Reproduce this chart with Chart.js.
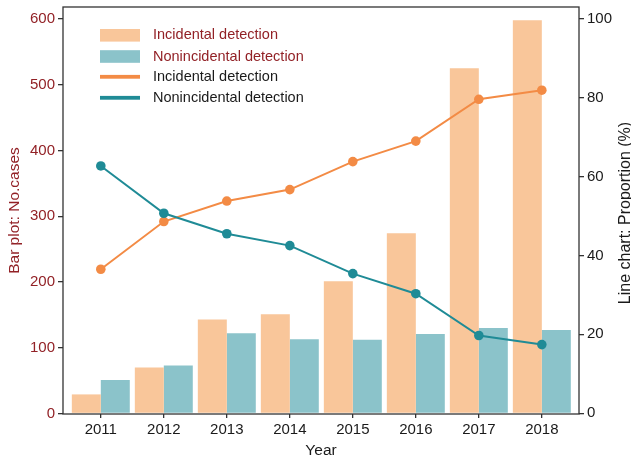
<!DOCTYPE html>
<html><head><meta charset="utf-8">
<script src="https://cdn.jsdelivr.net/npm/chart.js@4/dist/chart.umd.min.js"></script>
<style>html,body{margin:0;padding:0;background:#fff}#wrap{width:631px;height:461px}</style>
</head><body><div id="wrap"><canvas id="c" width="631" height="461"></canvas></div>
<script>
const years = [2011, 2012, 2013, 2014, 2015, 2016, 2017, 2018];
const incidentalCases = [29, 70, 143, 151, 201, 274, 525, 598];
const nonincidentalCases = [51, 73, 122, 113, 112, 121, 130, 127];
const incidentalPct = [36.5, 48.6, 53.8, 56.7, 63.8, 69.0, 79.6, 81.9];
const nonincidentalPct = [62.7, 50.7, 45.5, 42.5, 35.4, 30.3, 19.7, 17.4];
const casesTicks = [0, 100, 200, 300, 400, 500, 600];
const pctTicks = [0, 20, 40, 60, 80, 100];
const seriesNames = ['Incidental detection', 'Nonincidental detection'];
const axisTitles = {x: 'Year', left: 'Bar plot: No.cases', right: 'Line chart: Proportion (%)'};

const FONT = "'Liberation Sans', Arial, sans-serif";
const DARKRED = '#922126';
const C = {barInc: '#F9C69A', barNon: '#8BC3CA', lineInc: '#F38B45', lineNon: '#1F8B96', axis: '#333333', text: '#1a1a1a'};

const pts = (vals) => vals.map((v, i) => ({x: years[i], y: v}));
const noPad = s => { s.paddingTop = 0; s.paddingBottom = 0; s.paddingLeft = 0; s.paddingRight = 0; };

const extras = {
  id: 'extras',
  afterDraw(chart) {
    const ctx = chart.ctx, ca = chart.chartArea;
    ctx.save();
    ctx.strokeStyle = C.axis; ctx.lineWidth = 1.3;
    ctx.strokeRect(ca.left, ca.top, ca.right - ca.left, ca.bottom - ca.top);
    // axis titles
    ctx.textAlign = 'center'; ctx.textBaseline = 'middle';
    ctx.font = '15.5px ' + FONT; ctx.fillStyle = C.text;
    ctx.fillText(axisTitles.x, (ca.left + ca.right) / 2, 451);
    ctx.save(); ctx.translate(14.5, 210.5); ctx.rotate(-Math.PI / 2);
    ctx.font = '15.5px ' + FONT; ctx.fillStyle = DARKRED; ctx.fillText(axisTitles.left, 0, 0); ctx.restore();
    ctx.save(); ctx.translate(626, 213); ctx.rotate(-Math.PI / 2);
    ctx.font = '16px ' + FONT; ctx.fillStyle = C.text; ctx.fillText(axisTitles.right, 0, 0); ctx.restore();
    // legend
    const rows = [
      {kind: 'bar', color: C.barInc, label: seriesNames[0], tc: DARKRED, y: 35.3},
      {kind: 'bar', color: C.barNon, label: seriesNames[1], tc: DARKRED, y: 56.5},
      {kind: 'line', color: C.lineInc, label: seriesNames[0], tc: C.text, y: 76.8},
      {kind: 'line', color: C.lineNon, label: seriesNames[1], tc: C.text, y: 97.8}
    ];
    ctx.textAlign = 'left'; ctx.font = '14.5px ' + FONT;
    rows.forEach(r => {
      ctx.fillStyle = r.color;
      if (r.kind === 'bar') ctx.fillRect(100, r.y - 6.3, 40, 12.6);
      else ctx.fillRect(100, r.y - 1.9, 40, 3.8);
      ctx.fillStyle = r.tc;
      ctx.fillText(r.label, 153, r.y);
    });
    ctx.restore();
  }
};

const tickFont = {family: FONT, size: 15};
new Chart(document.getElementById('c'), {
  type: 'bar',
  data: {
    datasets: [
      {type: 'line', label: seriesNames[1], data: pts(nonincidentalPct), yAxisID: 'y1', order: 0,
       borderColor: C.lineNon, backgroundColor: C.lineNon, borderWidth: 2, pointRadius: 4.8, pointBorderWidth: 0,
       pointBackgroundColor: C.lineNon, tension: 0},
      {type: 'line', label: seriesNames[0], data: pts(incidentalPct), yAxisID: 'y1', order: 1,
       borderColor: C.lineInc, backgroundColor: C.lineInc, borderWidth: 2, pointRadius: 4.8, pointBorderWidth: 0,
       pointBackgroundColor: C.lineInc, tension: 0},
      {label: seriesNames[0], data: pts(incidentalCases), yAxisID: 'y', order: 2, backgroundColor: C.barInc,
       borderWidth: 0, categoryPercentage: 0.92, barPercentage: 1.0},
      {label: seriesNames[1], data: pts(nonincidentalCases), yAxisID: 'y', order: 2, backgroundColor: C.barNon,
       borderWidth: 0, categoryPercentage: 0.92, barPercentage: 1.0}
    ]
  },
  options: {
    responsive: false, devicePixelRatio: 1, animation: false,
    layout: {padding: {top: 7, left: 0, right: 0, bottom: 0}},
    plugins: {legend: {display: false}, tooltip: {enabled: false}},
    scales: {
      x: {
        type: 'linear', position: 'bottom', min: 2010.4, max: 2018.59, offset: false,
        afterBuildTicks: s => { s.ticks = years.map(v => ({value: v})); },
        afterFit: s => { s.height = 47; noPad(s); },
        ticks: {font: tickFont, color: C.text, padding: 3, maxRotation: 0, autoSkip: false, callback: v => String(v)},
        grid: {display: true, offset: false, drawOnChartArea: false, drawTicks: true, tickLength: 4, color: C.axis, lineWidth: 1.3},
        border: {display: false}
      },
      y: {
        position: 'left', min: -0.8, max: 618.3,
        afterBuildTicks: s => { s.ticks = casesTicks.map(v => ({value: v})); },
        afterFit: s => { s.width = 63; noPad(s); },
        ticks: {font: tickFont, color: DARKRED, padding: 3},
        grid: {display: true, drawOnChartArea: false, drawTicks: true, tickLength: 5, color: C.axis, lineWidth: 1.3},
        border: {display: false}
      },
      y1: {
        position: 'right', min: -0.2, max: 103.0,
        afterBuildTicks: s => { s.ticks = pctTicks.map(v => ({value: v})); },
        afterFit: s => { s.width = 52; noPad(s); },
        ticks: {font: tickFont, color: C.text, padding: 3},
        grid: {display: true, drawOnChartArea: false, drawTicks: true, tickLength: 5, color: C.axis, lineWidth: 1.3},
        border: {display: false}
      }
    }
  },
  plugins: [extras]
});
</script>
</body></html>
